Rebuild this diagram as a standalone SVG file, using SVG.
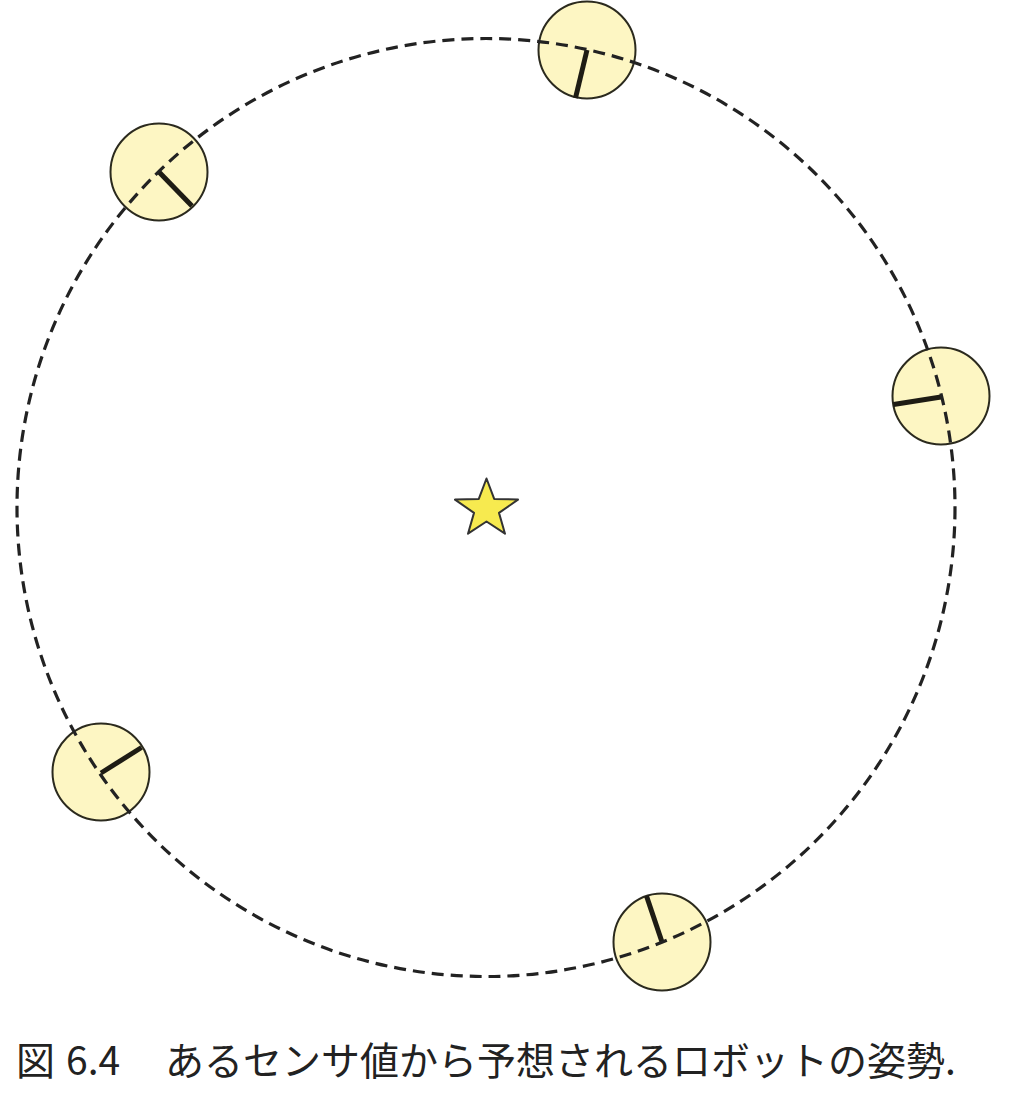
<svg xmlns="http://www.w3.org/2000/svg" width="1036" height="1095" viewBox="0 0 1036 1095">
<style>
.body{fill:#fdf6c3;stroke:#2b2a1e;stroke-width:2}
.head{stroke:#1e1c14;stroke-width:5;stroke-linecap:butt}
.orbit{fill:none;stroke:#222;stroke-width:3.2;stroke-dasharray:12 7}
.cap{font-family:"Noto Sans CJK JP","Noto Sans",sans-serif;font-size:39px;fill:#222}
</style>
<rect width="1036" height="1095" fill="#fff"/>
<g id="robot1"><circle class="body" cx="587" cy="50" r="48.5"/><line class="head" x1="587" y1="50" x2="575.5" y2="98"/></g>
<g id="robot2"><circle class="body" cx="159" cy="172" r="48.5"/><line class="head" x1="159" y1="172" x2="192" y2="206"/></g>
<g id="robot3"><circle class="body" cx="941" cy="396" r="48.5"/><line class="head" x1="941" y1="397" x2="893.5" y2="404.5"/></g>
<g id="robot4"><circle class="body" cx="101" cy="772" r="48.5"/><line class="head" x1="101" y1="773" x2="141.5" y2="747.5"/></g>
<g id="robot5"><circle class="body" cx="662" cy="942" r="48.5"/><line class="head" x1="662" y1="942" x2="646.5" y2="896"/></g>
<g id="connectors"><circle class="orbit" cx="486" cy="507.5" r="469"/></g>
<g id="star"><polygon points="486.5,478.5 494.2,498.9 518,499.6 499,512.9 505,533.7 486.5,521.5 468,533.7 474,512.9 455,499.6 478.8,498.9" fill="#f7ea4f" stroke="#333" stroke-width="2" stroke-linejoin="round"/></g>
<text class="cap" y="1075"><tspan x="16">図</tspan><tspan x="66">6.4</tspan><tspan x="165">あるセンサ値から予想されるロボットの姿勢.</tspan></text>
</svg>
